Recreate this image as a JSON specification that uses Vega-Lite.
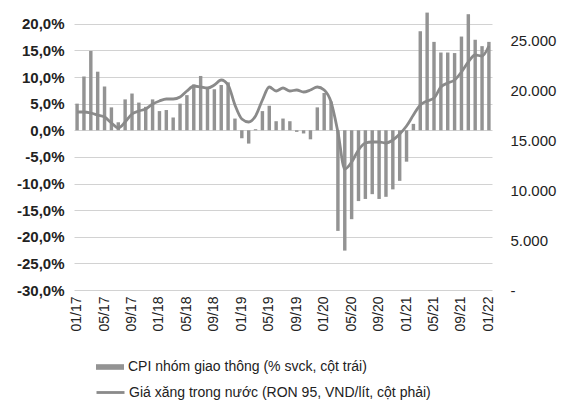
{
  "$schema": "https://vega.github.io/schema/vega-lite/v6.json",
  "width": 418,
  "height": 279,
  "autosize": {"type": "none"},
  "padding": {"left": 74, "top": 11, "right": 70, "bottom": 110},
  "background": "white",
  "config": {"view": {"stroke": null}, "font": "Liberation Sans"},
  "data": {"values": [
    {"m": "01/17", "cpi": 5.0, "gas": 17800},
    {"m": "02/17", "cpi": 10.1, "gas": 17800},
    {"m": "03/17", "cpi": 14.9, "gas": 17700},
    {"m": "04/17", "cpi": 11.0, "gas": 17500},
    {"m": "05/17", "cpi": 8.2, "gas": 17300},
    {"m": "06/17", "cpi": 4.3, "gas": 16700},
    {"m": "07/17", "cpi": 1.5, "gas": 16200},
    {"m": "08/17", "cpi": 5.8, "gas": 16800},
    {"m": "09/17", "cpi": 6.9, "gas": 17600},
    {"m": "10/17", "cpi": 5.2, "gas": 17900},
    {"m": "11/17", "cpi": 4.4, "gas": 18100},
    {"m": "12/17", "cpi": 5.8, "gas": 18600},
    {"m": "01/18", "cpi": 3.6, "gas": 18900},
    {"m": "02/18", "cpi": 3.8, "gas": 19100},
    {"m": "03/18", "cpi": 2.4, "gas": 19100},
    {"m": "04/18", "cpi": 5.0, "gas": 19300},
    {"m": "05/18", "cpi": 6.6, "gas": 19900},
    {"m": "06/18", "cpi": 8.6, "gas": 20400},
    {"m": "07/18", "cpi": 10.2, "gas": 20300},
    {"m": "08/18", "cpi": 7.8, "gas": 20200},
    {"m": "09/18", "cpi": 7.7, "gas": 20500},
    {"m": "10/18", "cpi": 8.5, "gas": 21000},
    {"m": "11/18", "cpi": 9.0, "gas": 20500},
    {"m": "12/18", "cpi": 2.2, "gas": 18500},
    {"m": "01/19", "cpi": -1.5, "gas": 17100},
    {"m": "02/19", "cpi": -2.5, "gas": 16800},
    {"m": "03/19", "cpi": 0.2, "gas": 17400},
    {"m": "04/19", "cpi": 3.6, "gas": 19000},
    {"m": "05/19", "cpi": 4.6, "gas": 20300},
    {"m": "06/19", "cpi": 1.7, "gas": 19900},
    {"m": "07/19", "cpi": 2.2, "gas": 20200},
    {"m": "08/19", "cpi": 1.7, "gas": 19900},
    {"m": "09/19", "cpi": -0.3, "gas": 20000},
    {"m": "10/19", "cpi": -0.6, "gas": 19800},
    {"m": "11/19", "cpi": -1.7, "gas": 20000},
    {"m": "12/19", "cpi": 4.3, "gas": 20300},
    {"m": "01/20", "cpi": 7.0, "gas": 20000},
    {"m": "02/20", "cpi": 5.4, "gas": 18800},
    {"m": "03/20", "cpi": -18.9, "gas": 15800},
    {"m": "04/20", "cpi": -22.6, "gas": 12100},
    {"m": "05/20", "cpi": -16.7, "gas": 12800},
    {"m": "06/20", "cpi": -13.3, "gas": 14000},
    {"m": "07/20", "cpi": -12.9, "gas": 14700},
    {"m": "08/20", "cpi": -12.0, "gas": 14800},
    {"m": "09/20", "cpi": -12.9, "gas": 14800},
    {"m": "10/20", "cpi": -12.5, "gas": 14700},
    {"m": "11/20", "cpi": -11.1, "gas": 15000},
    {"m": "12/20", "cpi": -9.5, "gas": 15600},
    {"m": "01/21", "cpi": -5.9, "gas": 16400},
    {"m": "02/21", "cpi": 1.2, "gas": 17500},
    {"m": "03/21", "cpi": 18.6, "gas": 18500},
    {"m": "04/21", "cpi": 22.1, "gas": 18900},
    {"m": "05/21", "cpi": 16.6, "gas": 19200},
    {"m": "06/21", "cpi": 14.6, "gas": 20300},
    {"m": "07/21", "cpi": 14.6, "gas": 20700},
    {"m": "08/21", "cpi": 14.5, "gas": 21000},
    {"m": "09/21", "cpi": 17.6, "gas": 21800},
    {"m": "10/21", "cpi": 21.8, "gas": 22800},
    {"m": "11/21", "cpi": 17.0, "gas": 23500},
    {"m": "12/21", "cpi": 15.8, "gas": 23400},
    {"m": "01/22", "cpi": 16.6, "gas": 24400}
  ]},
  "encoding": {
    "x": {
      "field": "m", "type": "ordinal", "sort": null,
      "scale": {"paddingInner": 0.5, "paddingOuter": 0.2},
      "axis": {
        "values": ["01/17","05/17","09/17","01/18","05/18","09/18","01/19","05/19","09/19","01/20","05/20","09/20","01/21","05/21","09/21","01/22"],
        "labelAngle": -90, "title": null, "ticks": false, "domain": false, "grid": false,
        "labelFontSize": 14, "labelPadding": 6, "labelColor": "#222222", "labelFont": "Liberation Sans"
      }
    }
  },
  "layer": [
    {
      "mark": {"type": "bar", "color": "#939393"},
      "encoding": {
        "y": {
          "field": "cpi", "type": "quantitative",
          "scale": {"domain": [-30, 22.4], "nice": false, "zero": false},
          "axis": {
            "orient": "left", "title": null,
            "values": [-30, -25, -20, -15, -10, -5, 0, 5, 10, 15, 20],
            "labelExpr": "(datum.value < 0 ? '-' : '') + replace(format(abs(datum.value), '.1f'), '.', ',') + '%'",
            "grid": true, "gridColor": "#d2d2d2", "gridWidth": 1,
            "ticks": false, "domain": false,
            "labelFontSize": 15, "labelFontWeight": "bold", "labelPadding": 10, "labelColor": "#222222"
          }
        },
        "color": {
          "datum": "CPI nhóm giao thông (% svck, cột trái)", "type": "nominal",
          "scale": {"range": ["#939393"]},
          "legend": {
            "orient": "none", "legendX": 21, "legendY": 341, "title": null,
            "symbolType": "M-1,-0.2H1V0.2H-1Z", "symbolSize": 784,
            "labelFontSize": 14, "labelColor": "#222222", "labelOffset": 3, "labelLimit": 600
          }
        }
      }
    },
    {
      "mark": {"type": "line", "strokeWidth": 2.8, "interpolate": "monotone", "color": "#8a8a8a"},
      "encoding": {
        "y": {
          "field": "gas", "type": "quantitative",
          "scale": {"domain": [0, 27900], "nice": false},
          "axis": {
            "orient": "right", "title": null,
            "values": [0, 5000, 10000, 15000, 20000, 25000],
            "labelExpr": "datum.value == 0 ? '-' : replace(format(datum.value, ',.0f'), ',', '.')",
            "grid": false, "ticks": false, "domain": false,
            "labelFontSize": 15, "labelPadding": 18, "labelColor": "#222222"
          }
        },
        "color": {
          "datum": "Giá xăng trong nước (RON 95, VND/lít, cột phải)", "type": "nominal",
          "scale": {"range": ["#8a8a8a"]},
          "legend": {
            "orient": "none", "legendX": 21, "legendY": 366, "title": null,
            "symbolType": "stroke", "symbolSize": 784, "symbolStrokeWidth": 2.8,
            "labelFontSize": 14, "labelColor": "#222222", "labelOffset": 3, "labelLimit": 600
          }
        }
      }
    }
  ],
  "resolve": {"scale": {"y": "independent", "color": "independent"}, "legend": {"color": "independent"}}
}
